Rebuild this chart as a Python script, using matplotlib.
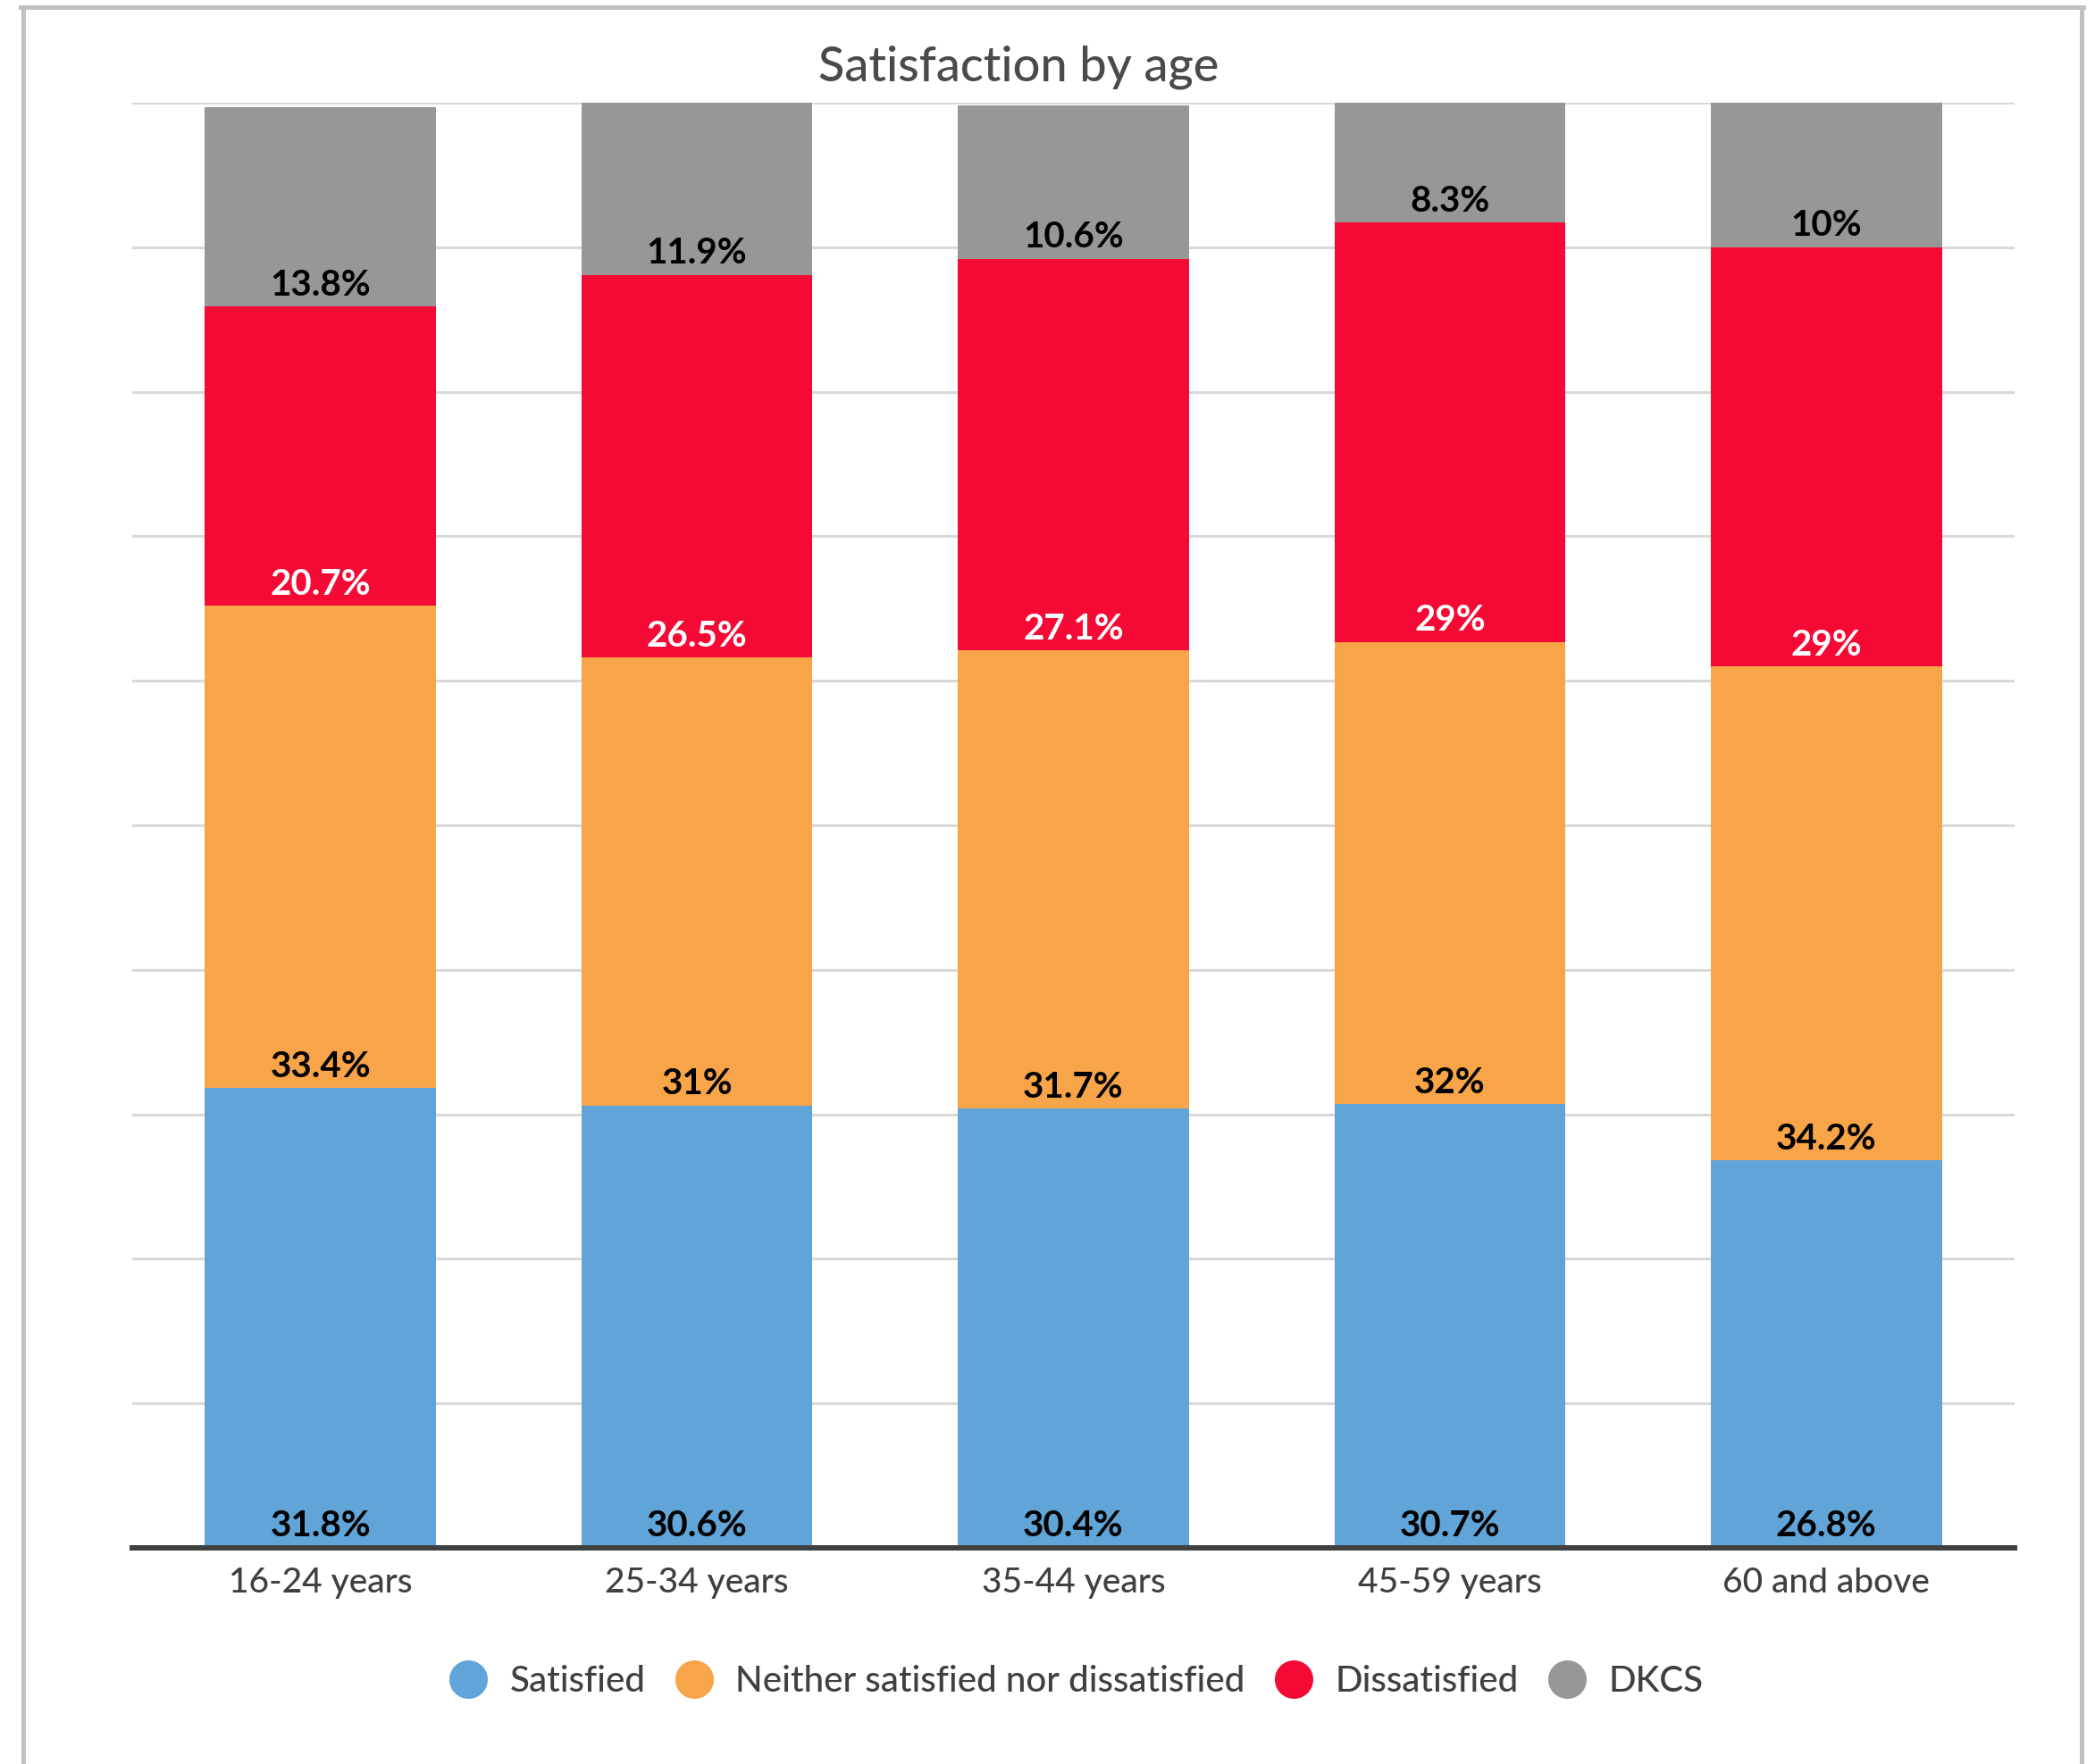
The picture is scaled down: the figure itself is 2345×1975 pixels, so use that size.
import matplotlib
matplotlib.use("Agg")
import matplotlib.pyplot as plt
from matplotlib.lines import Line2D
import numpy as np

# data (percent)
categories = ["16-24 years", "25-34 years", "35-44 years", "45-59 years", "60 and above"]
series_names = ["Satisfied", "Neither satisfied nor dissatisfied", "Dissatisfied", "DKCS"]
satisfied = [31.8, 30.6, 30.4, 30.7, 26.8]
neither = [33.4, 31.0, 31.7, 32.0, 34.2]
dissatisfied = [20.7, 26.5, 27.1, 29.0, 29.0]
dkcs = [13.8, 11.9, 10.6, 8.3, 10.0]

colors = ["#61a5d8", "#f8a449", "#f40a35", "#979797"]
label_colors = ["black", "black", "white", "black"]

plt.rcParams['font.family'] = ['Lato', 'DejaVu Sans']

W, H = 2345, 1975
fig = plt.figure(figsize=(W / 100, H / 100), dpi=100)
ax = fig.add_axes([148 / W, 1 - 1733 / H, (2255 - 148) / W, (1733 - 115) / H])

x = np.arange(len(categories))
bottom = np.zeros(len(categories))
for vals, name, col, lcol in zip([satisfied, neither, dissatisfied, dkcs], series_names, colors, label_colors):
    vals = np.array(vals)
    ax.bar(x, vals, width=0.614, bottom=bottom, color=col, zorder=2, label=name)
    for xi, b, v in zip(x, bottom, vals):
        ax.annotate(f"{v:g}%", xy=(xi, b), xytext=(0, 9), textcoords="offset points",
                    ha="center", va="baseline", fontsize=29, fontweight="bold",
                    color=lcol, zorder=3)
    bottom = bottom + vals

ax.set_xlim(-0.5, len(categories) - 0.5)
ax.set_ylim(0, 100)
ax.set_yticks(np.arange(0, 101, 10))
ax.yaxis.grid(True, color="#d9d9d9", linewidth=2.2, zorder=0)
ax.set_axisbelow(True)
ax.tick_params(axis="y", length=0, labelleft=False)
ax.set_xticks(x)
ax.set_xticklabels(categories, fontsize=28, color="#404040", fontweight="medium")
ax.tick_params(axis="x", length=0, pad=16)
for s in ["top", "right", "left"]:
    ax.spines[s].set_visible(False)
ax.spines["bottom"].set_color("#404040")
ax.spines["bottom"].set_linewidth(4.3)
ax.spines["bottom"].set_zorder(4)

fig.text(1140 / W, 1 - 75 / H, "Satisfaction by age", ha="center", va="center",
         fontsize=39, color="#4a4a4a", fontweight="medium")

handles = [Line2D([], [], marker="o", linestyle="none", markersize=30,
                  markerfacecolor=c, markeredgecolor=c) for c in colors]
leg = fig.legend(handles, series_names, loc="center", bbox_to_anchor=(1203 / W, 1 - 1883 / H),
                 ncol=4, frameon=False, fontsize=29, handletextpad=0.55, columnspacing=0.75,
                 handlelength=1.2, prop={"weight": "medium", "size": 29})
for t in leg.get_texts():
    t.set_color("#404040")

# light grey frame open at the bottom
fc = "#c0c0c0"
fig.add_artist(Line2D([25.5 / W, 25.5 / W], [0, 1 - 7.5 / H], color=fc, linewidth=3.6, transform=fig.transFigure))
fig.add_artist(Line2D([2329.5 / W, 2329.5 / W], [0, 1 - 7.5 / H], color=fc, linewidth=3.6, transform=fig.transFigure))
fig.add_artist(Line2D([23 / W, 2332 / W], [1 - 7.5 / H, 1 - 7.5 / H], color=fc, linewidth=3.6, transform=fig.transFigure))

fig.savefig("out.png", dpi=100)
